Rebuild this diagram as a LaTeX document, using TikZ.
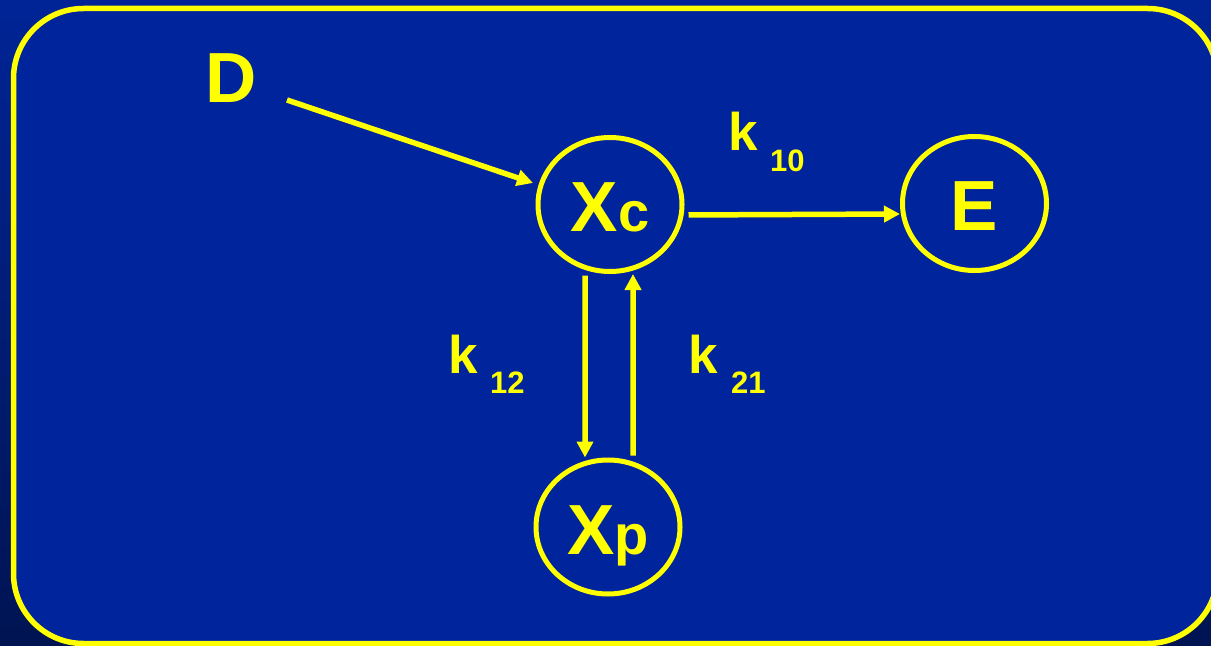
\documentclass[tikz,border=0pt]{standalone}
\usepackage{fontspec}
\setmainfont{Liberation Sans}
\usetikzlibrary{arrows.meta,shapes.geometric}
\definecolor{bgtop}{RGB}{0,36,150}
\definecolor{bgmid}{RGB}{0,32,130}
\definecolor{bgbot}{RGB}{0,20,82}
\definecolor{panel}{RGB}{0,36,156}
\definecolor{ylw}{RGB}{255,255,0}
\newcommand{\bigtxt}[1]{{\fontsize{71bp}{71bp}\selectfont #1}}
\newcommand{\smltxt}[1]{{\fontsize{56bp}{56bp}\selectfont #1}}
\newcommand{\klabel}[2]{{\fontsize{53bp}{53bp}\selectfont k}\hspace{#1}\raisebox{-20.5bp}{\fontsize{31bp}{31bp}\selectfont #2}}
\tikzset{
  comp/.style={ellipse, draw=ylw, line width=5bp, minimum width=144bp, minimum height=134bp,
    inner sep=0pt, text height=55bp, text depth=0pt, text=ylw, font=\bfseries},
  lbl/.style={text=ylw, font=\bfseries, inner sep=0pt},
  arr/.style={draw=ylw, line width=5.5bp, -{Triangle[length=16bp,width=16bp]}}
}
\begin{document}
\begin{tikzpicture}[x=1bp,y=-1bp]
\useasboundingbox (0,0) rectangle (1211,646);
\shade[top color=bgtop, middle color=bgmid, bottom color=bgbot] (0,0) rectangle (1211,646);
\draw[fill=panel, draw=ylw, line width=5.5bp, rounded corners=70bp] (13.5,8.5) rectangle (1217.5,643.5);
% nodes
\node[comp] (Xc) at (610,204.5) {\bigtxt{X}\smltxt{c}};
\node[comp] (E) at (974.5,203.5) {\bigtxt{E}};
\node[comp] (Xp) at (608,527) {\bigtxt{X}\smltxt{p}};
\node[lbl, anchor=base] (D) at (231.5,103) {\bigtxt{D}};
\coordinate (Dtail) at (287,100);
% rate labels
\node[lbl, anchor=base west] (k10) at (728.5,151) {\klabel{12bp}{10}};
\node[lbl, anchor=base west] (k12) at (448.5,373) {\klabel{12bp}{12}};
\node[lbl, anchor=base west] (k21) at (688.5,373) {\klabel{13bp}{21}};
% connectors
\draw[arr] (Dtail) -- ([shift={(-77,-21.5)}]Xc.center);
\draw[arr, shorten <=4bp] ([yshift=-10.5bp]Xc.east) -- ([yshift=-10.5bp]E.west);
\draw[arr, shorten <=1.5bp] ([xshift=-25bp]Xc.south) -- ([xshift=-23bp]Xp.north);
\draw[arr, shorten <=2bp] ([xshift=25bp]Xp.north) -- ([xshift=23bp]Xc.south);
\end{tikzpicture}
\end{document}
